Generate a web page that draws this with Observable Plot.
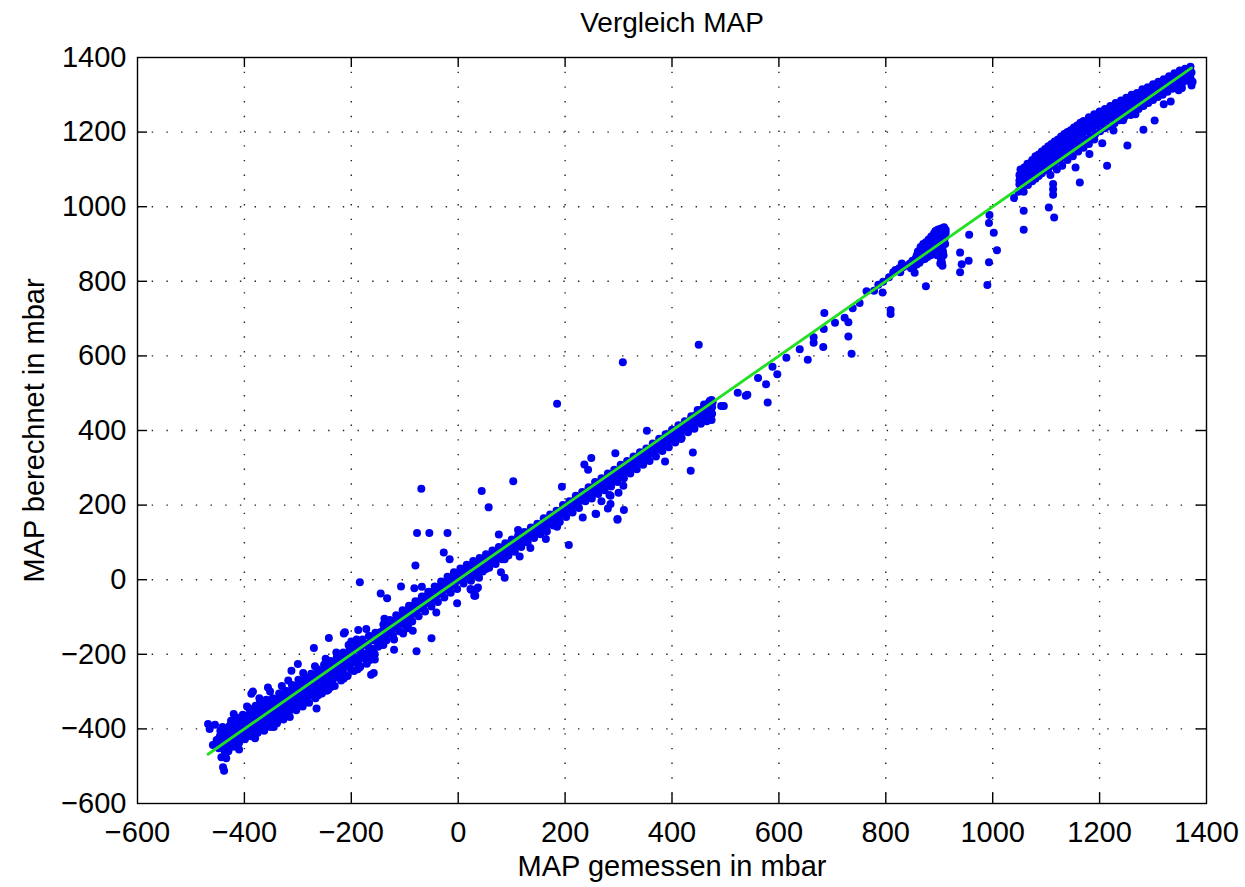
<!DOCTYPE html>
<html>
<head>
<meta charset="utf-8">
<script src="https://cdn.jsdelivr.net/npm/d3@7"></script>
<script src="https://cdn.jsdelivr.net/npm/@observablehq/plot@0.6"></script>
<style>
  html, body { margin: 0; padding: 0; background: #fff; }
  #chart svg { display: block; }
</style>
</head>
<body>
<div id="chart"></div>
<script>
// ---- Data (MAP gemessen [x], MAP berechnet [y]) in mbar ----
const xTicks = [-600, -400, -200, 0, 200, 400, 600, 800, 1000, 1200, 1400];
const yTicks = [-600, -400, -200, 0, 200, 400, 600, 800, 1000, 1200, 1400];

const clusterLow = [
  [-452,-430],[-448,-452],[-446,-420],[-444,-440],[-440,-408],[-438,-430],[-436,-452],[-434,-415],[-431,-398],[-429,-440],
  [-427,-420],[-424,-405],[-422,-430],[-420,-385],[-418,-412],[-416,-440],[-413,-398],[-411,-420],[-409,-375],[-407,-405],
  [-405,-428],[-402,-390],[-400,-372],[-398,-410],[-396,-395],[-394,-420],[-392,-380],[-390,-360],[-388,-398],[-386,-412],
  [-384,-372],[-382,-388],[-380,-350],[-378,-400],[-376,-378],[-374,-362],[-372,-392],[-370,-345],[-368,-375],[-366,-398],
  [-364,-358],[-362,-380],[-360,-340],[-358,-368],[-356,-390],[-354,-350],[-352,-372],[-350,-330],[-348,-360],[-346,-382],
  [-344,-342],[-342,-365],[-340,-322],[-338,-350],[-336,-375],[-334,-332],[-332,-358],[-330,-312],[-328,-340],[-326,-362],
  [-324,-320],[-322,-345],[-320,-300],[-318,-330],[-316,-352],[-314,-310],[-312,-335],[-310,-290],[-308,-318],[-306,-340],
  [-304,-300],[-302,-322],[-300,-282],[-298,-310],[-296,-330],[-294,-292],[-292,-312],[-290,-270],[-288,-300],[-286,-318],
  [-284,-280],[-282,-302],[-280,-262],[-278,-290],[-276,-310],[-274,-272],[-272,-295],[-270,-255],[-268,-280],[-266,-300],
  [-264,-262],[-262,-285],[-260,-245],[-258,-272],[-256,-290],[-254,-255],[-252,-275],[-250,-238],[-248,-262],[-246,-282],
  [-244,-245],[-242,-265],[-240,-228],[-238,-252],[-236,-272],[-234,-236],[-232,-255],[-230,-218],[-228,-242],[-226,-262],
  [-224,-226],[-222,-245],[-220,-210],[-218,-232],[-215,-250],[-212,-215],[-210,-232],[-207,-200],[-204,-222],[-201,-240],
  [-198,-205],[-195,-222],[-192,-188],[-189,-210],[-186,-228],[-183,-192],[-180,-210],[-177,-175],[-174,-198],[-171,-215],
  [-168,-180],[-165,-196],[-162,-162],[-159,-185],[-156,-200],[-153,-165],[-150,-180],
  [-356,-289],[-387,-306],[-312,-244],[-300,-226],[-212,-141],[-200,-166],[-172,-132]
];

const clusterLowExtra = [
  [-445,-405],[-441,-395],[-437,-460],[-432,-445],[-428,-392],[-425,-378],[-421,-448],[-417,-395],[-414,-370],[-410,-438],
  [-406,-383],[-403,-362],[-399,-428],[-395,-365],[-391,-345],[-387,-420],[-383,-355],[-379,-338],[-375,-410],[-371,-330],
  [-367,-352],[-363,-405],[-359,-322],[-355,-340],[-351,-395],[-347,-318],[-343,-330],[-339,-385],[-335,-305],[-331,-322],
  [-327,-375],[-323,-298],[-319,-312],[-315,-368],[-311,-282],[-307,-300],[-303,-350],[-299,-268],[-295,-285],[-291,-340],
  [-287,-262],[-283,-275],[-279,-330],[-275,-252],[-271,-262],[-267,-318],[-263,-240],[-259,-250],[-255,-305],[-251,-228],
  [-247,-240],[-243,-295],[-239,-218],[-235,-228],[-231,-285],[-227,-208],[-223,-218],[-219,-270],[-215,-195],[-211,-205],
  [-207,-258],[-203,-185],[-199,-195],[-195,-245],[-191,-172],[-187,-182],[-183,-232],[-179,-160],[-175,-172],[-171,-225],
  [-167,-150],[-163,-162],[-159,-210],[-155,-142],[-151,-150],
  [-420,-360],[-395,-340],[-372,-318],[-352,-300],[-330,-285],[-318,-270],[-290,-250],[-268,-232],[-248,-212],[-228,-195],
  [-205,-175],[-190,-160],[-410,-455],[-380,-425],[-345,-395],[-320,-365],[-290,-332],[-262,-310],[-238,-288],[-214,-265],
  [-188,-240],[-165,-215],[-140,-175],[-120,-160],[-95,-130]
];

const clusterMid = [
  [-148,-160],[-145,-140],[-142,-155],[-139,-132],[-136,-148],[-133,-125],[-130,-140],[-127,-118],[-124,-135],[-121,-112],
  [-118,-128],[-115,-105],[-112,-122],[-109,-98],[-106,-115],[-103,-92],[-100,-108],[-97,-85],[-94,-100],[-91,-78],
  [-88,-95],[-85,-70],[-82,-88],[-79,-65],[-76,-80],[-73,-58],[-70,-75],[-67,-52],[-64,-68],[-61,-45],
  [-58,-62],[-55,-40],[-52,-55],[-49,-32],[-46,-50],[-43,-28],[-40,-42],[-37,-20],[-34,-36],[-31,-15],
  [-28,-30],[-25,-8],[-22,-24],[-19,-2],[-16,-18],[-13,5],[-10,-12],[-7,10],[-4,-5],[-1,15],
  [2,0],[5,18],[8,6],[11,24],[14,10],[17,28],[20,15],[23,33],[26,20],[29,38],
  [32,24],[35,42],[38,30],[41,48],[44,35],[47,52],[50,40],[53,57],[56,46],[59,62],
  [62,50],[65,67],[68,56],[71,72],[74,60],[77,77],[80,66],[83,82],[86,70],[89,86],
  [92,76],[95,92],[98,82],[101,96],[104,88],[107,102],[110,92],[113,106],[116,98],[119,112],
  [122,104],[125,118],[128,110],[131,122],[134,116],[137,128],[140,122],[143,134],[146,126],[149,140],
  [152,132],[155,146],[158,138],[161,152],[164,144],[167,158],[170,150],[173,164],[176,155],[179,170],
  [182,162],[185,176],[188,168],[191,182],[194,175],[197,190],[200,182],[203,196],[206,188],[209,202],
  [212,194],[215,210],[218,200],[221,216],[224,206],[227,220],[230,212],[233,226]
];

const clusterMidExtra = [
  [-146,-175],[-140,-120],[-134,-162],[-128,-108],[-122,-150],[-116,-95],[-110,-138],[-104,-82],[-98,-125],[-92,-70],
  [-86,-112],[-80,-58],[-74,-98],[-68,-45],[-62,-85],[-56,-32],[-50,-72],[-44,-18],[-38,-60],[-32,-5],
  [-26,-48],[-20,8],[-14,-35],[-8,20],[-2,-25],[4,30],[10,-10],[16,40],[22,2],[28,50],
  [34,12],[40,58],[46,22],[52,68],[58,32],[64,78],[70,42],[76,88],[82,55],[88,98],
  [94,65],[100,108],[106,75],[112,118],[118,88],[124,128],[130,100],[136,140],[142,112],[148,150],
  [154,122],[160,165],[166,130],[172,175],[178,145],[184,185],[190,155],[196,200],[202,168],[208,210],
  [214,180],[220,225],[226,192],[232,235]
];

const clusterUpper = [
  [236,228],[239,220],[242,236],[245,228],[248,242],[251,232],[254,248],[257,238],[260,254],[263,244],
  [266,258],[269,250],[272,265],[275,255],[278,270],[281,262],[284,276],[287,266],[290,282],[293,272],
  [296,288],[299,278],[302,294],[305,284],[308,300],[311,290],[314,306],[317,296],[320,312],[323,300],
  [326,318],[329,308],[332,324],[335,314],[338,330],[341,320],[344,336],[347,326],[350,342],[353,332],
  [356,348],[359,338],[362,354],[365,344],[368,360],[371,350],[374,366],[377,356],[380,372],[383,362],
  [386,378],[389,368],[392,384],[395,374],[398,390],[401,380],[404,396],[407,386],[410,402],[413,392],
  [416,408],[419,398],[422,414],[425,404],[428,420],[431,410],[434,426],[437,416],[440,432],[442,420],
  [444,440],[446,428],[448,446],[450,432],[452,450],[454,438],[456,456],[458,442],[460,460],[462,446],
  [464,466],[466,452],[467,470],[468,436],[469,475],[470,458],[471,480],[472,444],[473,470],[474,482],
  [475,462],[476,476],[474,428],[470,432],[466,440],[460,430],[455,448],[450,425],
  [238,210],[244,248],[250,218],[256,262],[262,230],[268,272],[274,240],[280,285],[286,250],[292,295],
  [298,262],[304,308],[310,272],[316,318],[322,285],[328,330],[334,296],[340,342],[346,308],[352,352],
  [358,318],[364,365],[370,330],[376,378],[382,345],[388,390],[394,355],[400,402],[406,368],[412,414],
  [418,380],[424,425],[430,395],[436,438],[442,405],[448,455],[454,418],[460,470],[465,425],[470,470],
  [475,445],[473,455]
];

const clusterD = [
  [840,842],[845,848],[850,855],[853,850],[856,862],[858,870],[860,858],[862,875],[864,866],[866,880],
  [868,872],[870,886],[872,878],[874,892],[876,884],[878,898],[880,888],[882,904],[884,894],[886,910],
  [888,900],[890,915],[892,904],[894,920],[895,896],[896,926],[898,912],[899,890],[900,930],[902,918],
  [903,905],[904,934],[905,924],[906,910],[907,880],[908,935],[909,918],[910,928],[911,900],[912,938],
  [905,872],[904,860],[902,848],[906,892],[908,870],[890,895],[880,895],[870,880],
  [860,880],[865,892],[870,900],[875,905],[880,912],[885,920],[890,928],[893,935],[897,938],[901,940],
  [905,942],[909,945],[912,930],[910,915],[907,900],[903,890],[899,878],[896,870],[893,882],[888,880],
  [884,870],[878,865],[873,860],[868,858],[863,850],[858,845],[852,840],[847,835],[905,850],[906,842],
  [903,862],[818,830],[825,835],[832,838]
];

const clusterHigh = [
  [1048,1040],[1050,1060],[1050,1085],[1052,1100],[1054,1050],[1055,1075],[1057,1095],[1058,1040],[1060,1068],[1062,1090],
  [1064,1108],[1066,1058],[1068,1080],[1070,1100],[1072,1118],[1074,1068],[1076,1090],[1078,1110],[1080,1075],[1082,1098],
  [1084,1120],[1086,1082],[1088,1105],[1090,1128],[1092,1090],[1094,1112],[1096,1135],[1098,1098],[1100,1120],[1102,1142],
  [1104,1102],[1106,1128],[1108,1150],[1110,1110],[1112,1135],[1114,1156],[1116,1118],[1118,1142],[1120,1162],[1122,1125],
  [1124,1148],[1126,1170],[1128,1130],[1130,1155],[1132,1176],[1134,1138],[1136,1160],[1138,1182],[1140,1146],[1142,1168],
  [1144,1190],[1146,1152],[1148,1175],[1150,1196],[1152,1160],[1154,1182],[1156,1202],[1158,1165],[1160,1188],[1162,1208],
  [1165,1172],[1168,1196],[1171,1216],[1174,1180],[1177,1202],[1180,1222],[1183,1188],[1186,1210],[1189,1230],[1192,1195],
  [1195,1218],[1198,1236],[1201,1202],[1204,1224],[1207,1244],[1210,1210],[1213,1232],[1216,1250],[1219,1216],[1222,1238],
  [1225,1258],[1228,1224],[1231,1246],[1234,1264],[1237,1232],[1240,1254],[1243,1272],[1246,1240],[1249,1262],[1252,1280],
  [1255,1248],[1258,1270],[1261,1288],[1264,1256],[1267,1278],[1270,1294],[1273,1262],[1276,1284],[1279,1300],[1282,1270],
  [1285,1292],[1288,1310],[1291,1278],[1294,1300],[1297,1318],[1300,1286],[1303,1306],[1306,1325],[1309,1294],[1312,1314],
  [1315,1332],[1318,1300],[1321,1320],[1324,1338],[1327,1308],[1330,1328],[1333,1344],[1336,1316],[1339,1334],[1342,1350],
  [1345,1322],[1348,1340],[1351,1356],[1354,1330],[1357,1348],[1360,1362],[1363,1338],[1366,1355],[1368,1366],[1370,1345],
  [1372,1360],[1374,1335],[1372,1325],[1364,1340]
];

const clusterHighExtra = [
  [1050,1070],[1053,1095],[1056,1060],[1059,1105],[1062,1075],[1065,1115],[1068,1095],[1071,1085],[1074,1125],[1077,1100],
  [1080,1135],[1083,1108],[1086,1140],[1089,1115],[1092,1148],[1095,1122],[1098,1155],[1101,1132],[1104,1162],[1107,1140],
  [1110,1168],[1113,1148],[1116,1175],[1119,1155],[1122,1180],[1125,1160],[1128,1188],[1131,1168],[1134,1195],[1137,1175],
  [1140,1200],[1143,1180],[1146,1205],[1149,1188],[1152,1212],[1155,1192],[1158,1218],[1161,1200],[1164,1225],[1167,1205],
  [1170,1230],[1175,1212],[1180,1240],[1185,1220],[1190,1248],[1195,1228],[1200,1255],[1205,1236],[1210,1262],[1215,1242],
  [1220,1270],[1225,1250],[1230,1278],[1235,1258],[1240,1285],[1245,1265],[1250,1292],[1255,1272],[1260,1300],[1265,1280],
  [1270,1305],[1275,1288],[1280,1315],[1285,1298],[1290,1320],[1295,1305],[1300,1328],[1305,1312],[1310,1335],[1315,1320],
  [1320,1342],[1325,1328],[1330,1350],[1335,1338],[1340,1358],[1345,1345],[1350,1365],[1355,1352],[1360,1370],[1365,1362],
  [1370,1375],[1108,1085],[1120,1100],[1130,1110],[1140,1125],[1150,1135],[1160,1148],[1170,1158],[1180,1168],[1190,1180]
];

const outliers = [
  [450,630],[308,583],[185,472],[-69,244],[44,238],[103,264],[57,194],[-77,125],[-54,125],[-20,125],
  [-27,73],[-16,55],[-80,38],[76,121],[207,93],[353,399],[294,339],[249,326],[236,309],[243,295],
  [439,341],[435,292],[387,317],[194,249],[268,210],[285,225],[300,233],[309,252],[257,177],[280,191],
  [310,187],[298,161],[495,466],[523,501],[538,493],[541,496],[561,541],[576,524],[579,475],[588,571],
  [597,551],[614,595],[639,618],[654,590],[665,650],[665,635],[683,624],[684,672],[685,715],[705,689],
  [723,702],[730,690],[730,652],[736,606],[738,728],[751,742],[764,773],[778,775],[794,770],[786,791],
  [795,799],[809,723],[809,712],[806,811],[814,824],[827,824],[830,848],[854,823],[875,787],[939,877],
  [942,846],[939,824],[956,925],[955,855],[990,790],[993,851],[994,978],[993,956],[1002,930],[1008,883],
  [1040,1023],[1058,989],[1058,938],[1105,998],[1115,971],[1113,1061],[1113,1047],[1113,1032],[1155,1105],[1163,1065],
  [1181,1141],[1205,1170],[1214,1110],[1226,1204],[1252,1164],[1244,1232],[1282,1206],[1303,1231],[1320,1275],[1333,1282],
  [1348,1312],[1354,1318],[1267,1248],[1258,1246],
  [-184,-7],[-145,-37],[-133,-50],[-107,-18],[-82,-23],[-68,-19],[80,20],[87,5],[34,-25],[23,-25],
  [30,-43],[-50,-157],[-78,-192],[-120,-188],[-156,-214],[-163,-255],[-158,-250],[-184,-235],[-242,-156],[-270,-183],
  [-214,-144],[-187,-135],[-265,-345],[-246,-298],[-384,-300],[-468,-387],[-455,-389],[-465,-400],[-459,-443],[-449,-439],
  [-443,-476],[-434,-479],[-440,-503],[-438,-512],[-430,-460],
  [24,-27],[37,-21],[32,-43],[-2,-63],[-41,-88],[-85,-137],[-94,-123],[-103,-144],[-113,-97],[-138,-105],
  [115,62],[135,85],[164,109],[185,142],[112,133],[99,78],[87,55],[72,58],[52,29],[39,5],[24,-3],
  [233,167],[258,176],[283,227],[285,203],[298,163],[417,377],[492,466],[497,466]
];

const refLine = [[-468,-468],[1372,1372]];

// ---- Layout ----
const W = 1245, H = 887;
const mL = 137, mR = 39, mT = 57, mB = 84;
const innerW = W - mL - mR, innerH = H - mT - mB;
const tickLen = 10;
const FONT = "'Liberation Sans', Arial, Helvetica, sans-serif";
const fmt = d => d < 0 ? "\u2212" + Math.abs(d) : String(d);

const points = [...clusterLow, ...clusterLowExtra, ...clusterMid, ...clusterMidExtra,
  ...clusterUpper, ...clusterD, ...clusterHigh, ...clusterHighExtra, ...outliers]
  .map(([x, y]) => ({x, y}));
const inner = v => v > -600 && v < 1400;

const chart = Plot.plot({
  width: W, height: H,
  marginLeft: mL, marginRight: mR, marginTop: mT, marginBottom: mB,
  style: {fontFamily: FONT, fontSize: "29px", color: "#000", background: "#fff"},
  x: {domain: [-600, 1400]},
  y: {domain: [-600, 1400]},
  marks: [
    Plot.gridX(xTicks.filter(inner), {stroke: "#222", strokeOpacity: 1, strokeWidth: 1.4, strokeDasharray: "1.4,13.3"}),
    Plot.gridY(yTicks.filter(inner), {stroke: "#222", strokeOpacity: 1, strokeWidth: 1.4, strokeDasharray: "1.4,13.3"}),
    Plot.dot(points, {x: "x", y: "y", r: 4, fill: "#0000f0", stroke: "none"}),
    Plot.line(refLine, {x: d => d[0], y: d => d[1], stroke: "#22e022", strokeWidth: 2.8}),
    Plot.frame({stroke: "#000", strokeWidth: 1.4}),
    Plot.ruleX(xTicks.filter(inner), {stroke: "#000", strokeWidth: 1.4, insetTop: innerH - tickLen}),
    Plot.ruleX(xTicks.filter(inner), {stroke: "#000", strokeWidth: 1.4, insetBottom: innerH - tickLen}),
    Plot.ruleY(yTicks.filter(inner), {stroke: "#000", strokeWidth: 1.4, insetRight: innerW - tickLen}),
    Plot.ruleY(yTicks.filter(inner), {stroke: "#000", strokeWidth: 1.4, insetLeft: innerW - tickLen}),
    Plot.axisX(xTicks, {anchor: "bottom", tickSize: 0, tickPadding: 18, tickFormat: fmt, label: null, fontSize: 29}),
    Plot.axisY(yTicks, {anchor: "left", tickSize: 0, tickPadding: 11, tickFormat: fmt, label: null, fontSize: 29}),
    Plot.text(["Vergleich MAP"], {frameAnchor: "top", lineAnchor: "middle", dy: -34, fontSize: 28, fill: "#000"}),
    Plot.text(["MAP gemessen in mbar"], {frameAnchor: "bottom", lineAnchor: "middle", dy: 63, fontSize: 29, fill: "#000"}),
    Plot.text(["MAP berechnet in mbar"], {frameAnchor: "left", textAnchor: "middle", lineAnchor: "middle", dx: -103, rotate: -90, fontSize: 29, fill: "#000"})
  ]
});
document.getElementById("chart").appendChild(chart);
</script>
</body>
</html>
